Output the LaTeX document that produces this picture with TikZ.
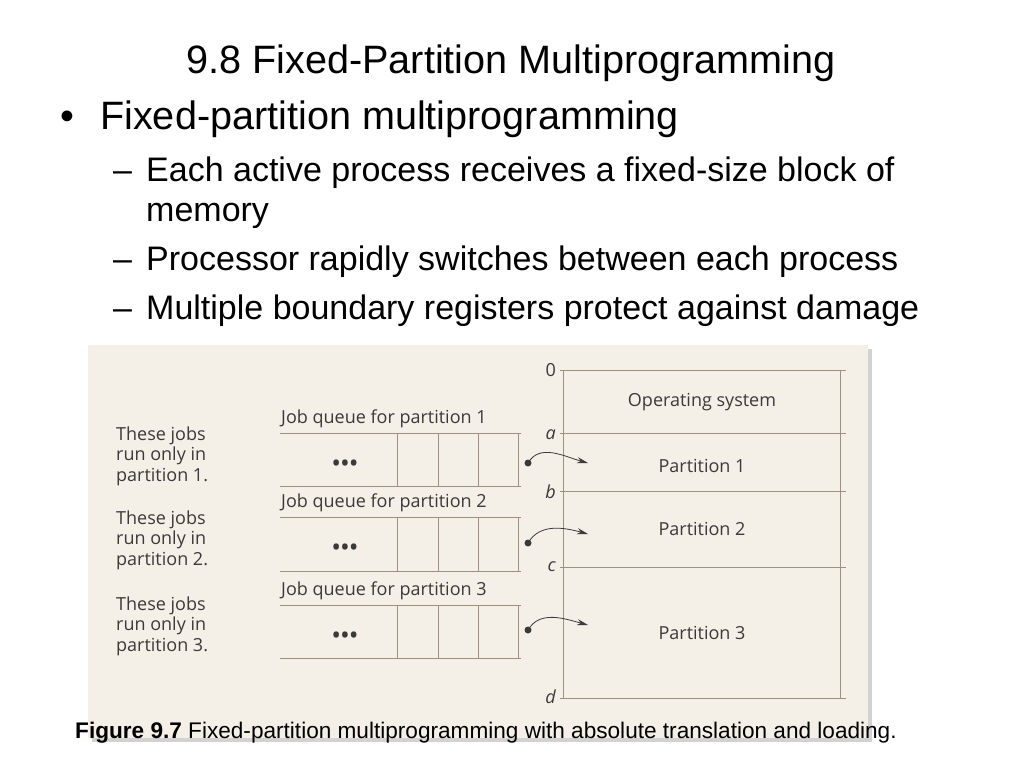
\documentclass[tikz,border=0pt]{standalone}
\usepackage{fontspec}
\setmainfont{Liberation Sans}
\newfontfamily\figfont{Open Sans}
\usepackage{tikz}
\usetikzlibrary{arrows.meta}
\usetikzlibrary{shadows}
\definecolor{panelbg}{HTML}{F4EFE7}
\definecolor{rule}{HTML}{A08F7D}
\definecolor{figtext}{HTML}{3C3A38}
\tikzset{slide/.style={anchor=base west, inner sep=0pt},
  figlabel/.style={font=\figfont\fontsize{18}{20.5}\selectfont, text=figtext, inner sep=0pt},
  jobdot/.style={circle, fill=figtext, inner sep=0pt, minimum size=7pt},
  jobarrow/.style={-{Stealth[length=11pt,width=6pt]}, thick, draw=figtext}}

\begin{document}
\begin{tikzpicture}[x=1pt,y=-1pt]
  \useasboundingbox[fill=white] (0,0) rectangle (1024,768);
  % slide text
  \node[anchor=base, inner sep=0pt, font=\fontsize{39.6}{44}\selectfont] (title) at (511,73)
    {9.8 Fixed-Partition Multiprogramming};
  \node[slide, font=\fontsize{39.6}{44}\selectfont] (bul) at (60,129) {\textbullet};
  \node[slide, font=\fontsize{39.6}{44}\selectfont] (item) at (100,129) {Fixed-partition multiprogramming};
  \foreach \y/\lab/\txt in {
    181/s1/Each active process receives a fixed-size block of,
    270/s3/Processor rapidly switches between each process,
    319/s4/Multiple boundary registers protect against damage%
  } {
    \node[slide, font=\fontsize{34}{40}\selectfont] (d\lab) at (113,\y) {--};
    \node[slide, font=\fontsize{34}{40}\selectfont] (\lab) at (146,\y) {\txt};
  }
  \node[slide, font=\fontsize{34}{40}\selectfont] (s2) at (146,221) {memory};
  % figure panel
  \fill[panelbg, drop shadow={shadow xshift=4pt, shadow yshift=-4pt, opacity=.35}]
    (88,345) rectangle (868,738);
  % memory
  \foreach \y in {370, 433, 491, 567, 698}
    \draw[rule, thick] (560,\y) -- (846,\y);
  \foreach \y/\lab/\txt in {370/m0/0, 435/ma/\itshape a, 492/mb/\itshape b, 567/mc/\itshape c, 697/md/\itshape d}
    \node[figlabel, anchor=east] (\lab) at (556,\y) {\txt};
  \draw[rule, thick] (563,370) -- (563,698) (840,370) -- (840,698);
  \foreach \y/\lab/\txt in {
    402/os/Operating system,
    466/p1/Partition 1,
    529/p2/Partition 2,
    633/p3/Partition 3%
  } {
    \node[figlabel] (\lab) at (702,\y) {\txt};
  }
  % job queues
  \foreach \n/\top/\bot in {1/433/486, 2/517/571, 3/605/658} {
    \draw[rule, thick] (280,\top) -- (521,\top) (280,\bot) -- (521,\bot);
    \foreach \x in {397,438,478,518}
      \draw[rule, thick] (\x,\top) -- (\x,\bot);
    \node[figlabel, anchor=south west] (q\n) at (281,\top-5) {Job queue for partition \n};
    \node[figlabel, font=\figfont\fontsize{26}{26}\selectfont] (dots\n) at (345,\top+33)
      {\textbullet\kern-1pt\textbullet\kern-1pt\textbullet};
  }
  \foreach \y/\n in {456/1, 540/2, 626/3} {
    \node[figlabel, anchor=west, align=left] (jobs\n) at (116,\y)
      {These jobs\\run only in\\partition \n.};
  }
  % arrows into partitions
  \foreach \n/\sy/\ey in {1/463/463, 2/543/534, 3/630/625} {
    \node[jobdot] (src\n) at (528,\sy) {};
    \coordinate (dst\n) at (588,\ey);
    \draw[jobarrow] (src\n.center) to[out=60, in=165] (dst\n);
  }
  % caption
  \node[slide, font=\fontsize{22.6}{26}\selectfont] (cap) at (75,738)
    {\textbf{Figure 9.7} Fixed-partition multiprogramming with absolute translation and loading.};
\end{tikzpicture}
\end{document}
